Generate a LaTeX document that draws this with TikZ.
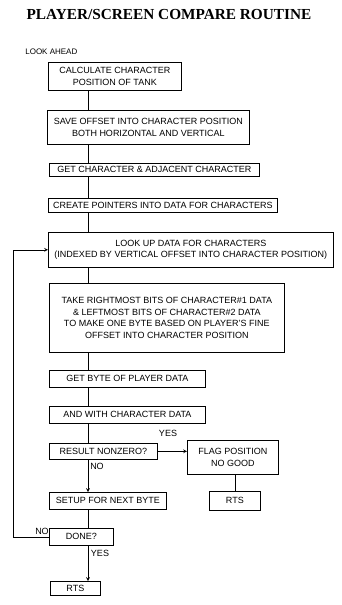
\documentclass[tikz,border=0pt]{standalone}
\usepackage{fontspec}
\setmainfont{Liberation Sans}
\newfontfamily\titlefont{Liberation Serif}
\begin{document}
\begin{tikzpicture}[x=1pt,y=-1pt,>=stealth,line width=0.7pt,
  box/.style={draw,anchor=north west,inner sep=1pt,align=center,
    font=\fontsize{9}{11.5}\selectfont},
  lbl/.style={font=\fontsize{9}{11}\selectfont,inner sep=0pt}]
  \useasboundingbox (0,0) rectangle (341,605);
  \node[font=\titlefont\bfseries\fontsize{15.3}{18}\selectfont] (title) at (169,15) {PLAYER/SCREEN COMPARE ROUTINE};
  \node[lbl,anchor=west,font=\fontsize{8}{10}\selectfont] (entry) at (25,52) {LOOK AHEAD};
  \coordinate (spine) at (88,0);
  \coordinate (loop) at (13,0);
  \node[box,minimum width=133,minimum height=28] (calc) at (48,62) {CALCULATE CHARACTER\\POSITION OF TANK};
  \node[box,minimum width=202,minimum height=34] (save) at (47,110) {SAVE OFFSET INTO CHARACTER POSITION\\BOTH HORIZONTAL AND VERTICAL};
  \node[box,minimum width=210,minimum height=13] (getchar) at (49,163) {GET CHARACTER \& ADJACENT CHARACTER};
  \node[box,minimum width=229,minimum height=14] (pointers) at (48,198) {CREATE POINTERS INTO DATA FOR CHARACTERS};
  \node[box,minimum width=285,minimum height=35] (lookup) at (48,232) {LOOK UP DATA FOR CHARACTERS\\(INDEXED BY VERTICAL OFFSET INTO CHARACTER POSITION)};
  \node[box,minimum width=235,minimum height=69] (merge) at (49,283) {TAKE RIGHTMOST BITS OF CHARACTER\#1 DATA\\\& LEFTMOST BITS OF CHARACTER\#2 DATA\\TO MAKE ONE BYTE BASED ON PLAYER'S FINE\\OFFSET INTO CHARACTER POSITION};
  \node[box,minimum width=156,minimum height=17] (getbyte) at (49,370) {GET BYTE OF PLAYER DATA};
  \node[box,minimum width=156,minimum height=17] (andchar) at (49,406) {AND WITH CHARACTER DATA};
  \node[box,minimum width=108,minimum height=16] (nonzero) at (49,443) {RESULT NONZERO?};
  \node[box,minimum width=91,minimum height=34] (flag) at (187,440) {FLAG POSITION\\NO GOOD};
  \node[box,minimum width=51,minimum height=19] (rtsb) at (209,491) {RTS};
  \node[box,minimum width=117,minimum height=17] (setup) at (49,492) {SETUP FOR NEXT BYTE};
  \node[box,minimum width=64,minimum height=17] (done) at (49,528) {DONE?};
  \node[box,minimum width=50,minimum height=14] (rtsa) at (50,581) {RTS};
  \foreach \a/\b in {calc/save,save/getchar,getchar/pointers,pointers/lookup,lookup/merge,
                     merge/getbyte,getbyte/andchar,andchar/nonzero,setup/done}
    \draw (\a.south -| spine) -- (\b.north -| spine);
  \draw[->] (nonzero.south -| spine) -- (setup.north -| spine);
  \draw[->] (done.south -| spine) -- (rtsa.north -| spine);
  \draw[->] (nonzero.east) -- (nonzero.east -| flag.west);
  \draw (flag.south -| rtsb.north) -- (rtsb.north);
  \draw[->] (done.west) -- (done.west -| loop) |- (lookup.west);
  \node[lbl] (yesflag) at (168,433) {YES};
  \node[lbl] (nosetup) at (97,466) {NO};
  \node[lbl] (noloop) at (42,531) {NO};
  \node[lbl] (yesrts) at (100,553) {YES};
\end{tikzpicture}
\end{document}
